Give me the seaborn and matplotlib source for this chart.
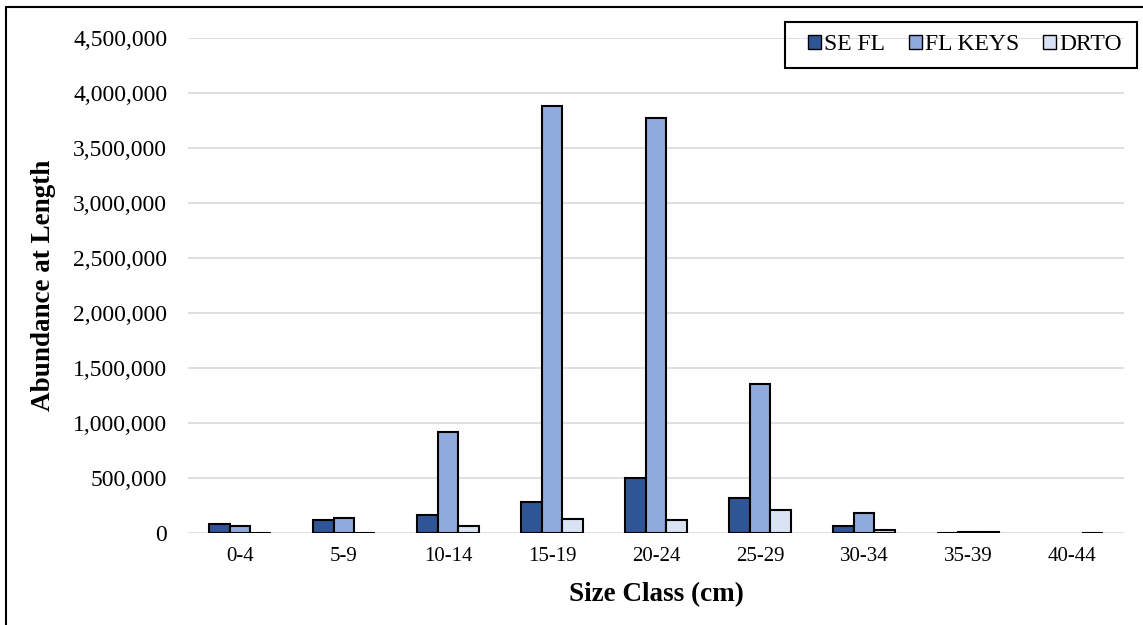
import numpy as np
import pandas as pd
import matplotlib.pyplot as plt
import matplotlib.ticker as mticker
from matplotlib.patches import Rectangle
from matplotlib.lines import Line2D
import seaborn as sns

# Dati
classi = ["0-4", "5-9", "10-14", "15-19", "20-24", "25-29", "30-34", "35-39", "40-44"]
se_fl = [85000, 120000, 166000, 282000, 500000, 318000, 66000, 2000, np.nan]
fl_keys = [64000, 136000, 918000, 3880000, 3771000, 1355000, 178000, 8000, np.nan]
drto = [1500, 1500, 64000, 124000, 122000, 208000, 27000, 8000, 2000]
serie = ["SE FL", "FL KEYS", "DRTO"]
colori = ["#2F5597", "#8FAADC", "#DAE3F3"]

df = pd.DataFrame({"Classe": classi * 3,
                   "Valore": se_fl + fl_keys + drto,
                   "Serie": [s for s in serie for _ in classi]})

sns.set_style("white")
plt.rcParams['font.family'] = ['Liberation Serif', 'DejaVu Serif']
plt.rcParams['text.color'] = 'black'

W, H = 1143, 625
fig = plt.figure(figsize=(W / 100, H / 100), dpi=100)
ax = fig.add_axes([188 / W, 1 - 533 / H, (1124 - 188) / W, (533 - 38) / H])

sns.barplot(data=df, x="Classe", y="Valore", hue="Serie", palette=colori,
            order=classi, hue_order=serie, width=0.6, gap=0, saturation=1,
            edgecolor="black", linewidth=1.5, ax=ax)

ax.set_ylim(0, 4500000)
ax.set_xlim(-0.5, len(classi) - 0.5)
ax.yaxis.set_major_locator(mticker.MultipleLocator(500000))
ax.yaxis.set_major_formatter(mticker.FuncFormatter(lambda v, p: f"{v:,.0f}"))
ax.grid(axis="y", color="#D9D9D9", linewidth=1.2)
ax.set_axisbelow(True)
for s in ax.spines.values():
    s.set_visible(False)
ax.tick_params(axis="y", length=0, labelsize=17, pad=15, labelcolor="black")
ax.tick_params(axis="x", length=0, labelsize=15, pad=10, labelcolor="black")

ax.set_xlabel("Size Class (cm)", fontsize=19.5, fontweight="bold", labelpad=12, color="black")
ax.set_ylabel("Abundance at Length", fontsize=19.5, fontweight="bold", labelpad=12, color="black")

# legenda con cornice disegnata a parte
h, l = ax.get_legend_handles_labels()
leg = ax.legend(h, l, ncol=3, loc="center", bbox_to_anchor=(965 / W, 1 - 45 / H),
                bbox_transform=fig.transFigure, borderaxespad=0, fontsize=17,
                frameon=False, handlelength=0.55, handleheight=0.55,
                handletextpad=0.15, columnspacing=1.0, borderpad=0)
for p in leg.get_patches():
    p.set_linewidth(1.0)
    p.set_edgecolor("black")
fig.patches.append(Rectangle((785 / W, 1 - 68 / H), (1137 - 785) / W, 46 / H,
                             transform=fig.transFigure, fill=False,
                             edgecolor="black", linewidth=1.5))

# bordo sinistro e superiore
fig.lines.append(Line2D([6 / W, 6 / W], [0, 1 - 7 / H], transform=fig.transFigure,
                        color="black", linewidth=1.5))
fig.lines.append(Line2D([6 / W, 1], [1 - 7 / H, 1 - 7 / H], transform=fig.transFigure,
                        color="black", linewidth=1.5))

fig.savefig("out.png", dpi=100)
